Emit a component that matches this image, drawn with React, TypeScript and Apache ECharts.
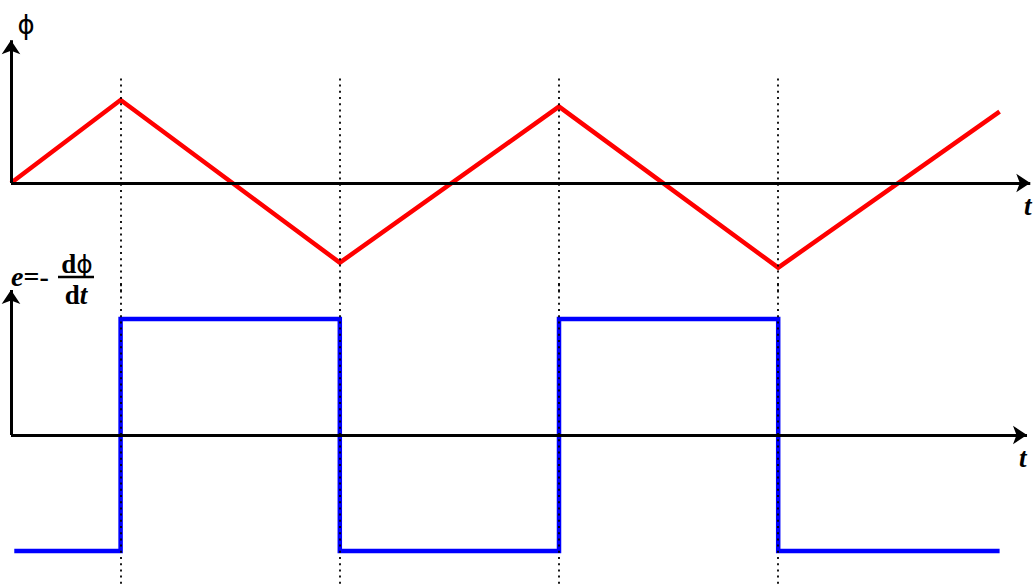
import React, { useEffect, useRef } from "react";
import * as echarts from "echarts";

// magnetic flux (top) vertices: time, value
const phiTimes = [0, 1, 3, 5, 7, 9.02];
const phiValues = [0, 1.0, -0.96, 0.92, -1.02, 0.86];

// induced emf (bottom) switching points, drawn with step 'start'
const eTimes = [0.03, 1, 3, 5, 7, 9.02];
const eValues = [-1, -1, 1, -1, 1, -1];

// dotted guide times (extrema of flux)
const guideTimes = [1, 3, 5, 7];

// axis extents
const tMax = 9.3;
const phiAxisTop = 1.72;
const eAxisTop = 1.25;

export default function App() {
  const ref = useRef<HTMLDivElement>(null);

  useEffect(() => {
    if (!ref.current) return;
    const chart = echarts.init(ref.current, null, { renderer: "svg" });

    const axisStyle = { color: "#000", width: 3, type: "solid" as const };
    const guideStyle = { color: "#000", width: 1.8, type: [2, 4.2] as any };

    const axisMark = (end: [number, number]) => [
      { coord: [0, 0], symbol: "none" },
      { coord: end, symbol: "arrow" },
    ];

    const serif = "Liberation Serif";

    const option: any = {
      animation: false,
      backgroundColor: "#fff",
      grid: [
        { left: 11, top: 17, width: tMax * 109.6, height: 3.3 * 83 },
        { left: 11, top: 435 - 1.3 * 116, width: tMax * 109.6, height: 2.6 * 116 },
      ],
      xAxis: [
        { type: "value", gridIndex: 0, min: 0, max: tMax, show: false },
        { type: "value", gridIndex: 1, min: 0, max: tMax, show: false },
      ],
      yAxis: [
        { type: "value", gridIndex: 0, min: -1.3, max: 2.0, show: false },
        { type: "value", gridIndex: 1, min: -1.3, max: 1.3, show: false },
      ],
      series: [
        {
          name: "axes-top",
          type: "line",
          xAxisIndex: 0,
          yAxisIndex: 0,
          data: [],
          z: 1,
          markLine: {
            silent: true,
            animation: false,
            symbolSize: 14,
            label: { show: false },
            lineStyle: axisStyle,
            data: [axisMark([tMax, 0]), axisMark([0, phiAxisTop])],
          },
        },
        {
          name: "axes-bottom",
          type: "line",
          xAxisIndex: 1,
          yAxisIndex: 1,
          data: [],
          z: 1,
          markLine: {
            silent: true,
            animation: false,
            symbolSize: 14,
            label: { show: false },
            lineStyle: axisStyle,
            data: [axisMark([tMax - 0.03, 0]), axisMark([0, eAxisTop])],
          },
        },
        {
          name: "phi",
          type: "line",
          xAxisIndex: 0,
          yAxisIndex: 0,
          z: 2,
          showSymbol: false,
          symbol: "none",
          lineStyle: { color: "#ff0000", width: 4.5, join: "miter" },
          data: phiTimes.map((t, i) => [t, phiValues[i]]),
        },
        {
          name: "e",
          type: "line",
          xAxisIndex: 1,
          yAxisIndex: 1,
          z: 2,
          step: "start",
          showSymbol: false,
          symbol: "none",
          lineStyle: { color: "#0000ff", width: 4.5, join: "miter" },
          data: eTimes.map((t, i) => [t, eValues[i]]),
        },
        {
          name: "guides-top",
          type: "line",
          xAxisIndex: 0,
          yAxisIndex: 0,
          data: [],
          z: 3,
          markLine: {
            silent: true,
            animation: false,
            symbol: "none",
            label: { show: false },
            lineStyle: guideStyle,
            data: guideTimes.map((t) => [{ coord: [t, 1.26] }, { coord: [t, -1.3] }]),
          },
        },
        {
          name: "guides-bottom",
          type: "line",
          xAxisIndex: 1,
          yAxisIndex: 1,
          data: [],
          z: 3,
          markLine: {
            silent: true,
            animation: false,
            symbol: "none",
            label: { show: false },
            lineStyle: guideStyle,
            data: guideTimes.map((t) => [{ coord: [t, 1.3] }, { coord: [t, -1.3] }]),
          },
        },
      ],
      graphic: [
        {
          type: "text",
          x: 26,
          y: 25,
          style: {
            text: "ϕ",
            fontSize: 26,
            fontFamily: "DejaVu Sans",
            fill: "#000",
            align: "center",
            verticalAlign: "middle",
          },
        },
        {
          type: "text",
          x: 1024,
          y: 206,
          style: {
            text: "t",
            fontSize: 27,
            fontStyle: "italic",
            fontWeight: "bold",
            fontFamily: serif,
            fill: "#000",
            align: "left",
            verticalAlign: "middle",
          },
        },
        {
          type: "text",
          x: 1019,
          y: 458,
          style: {
            text: "t",
            fontSize: 27,
            fontStyle: "italic",
            fontWeight: "bold",
            fontFamily: serif,
            fill: "#000",
            align: "left",
            verticalAlign: "middle",
          },
        },
        {
          type: "text",
          x: 11,
          y: 276,
          style: {
            text: "{i|e}{b|=-}",
            fill: "#000",
            align: "left",
            verticalAlign: "middle",
            rich: {
              i: { fontSize: 28, fontStyle: "italic", fontWeight: "bold", fontFamily: serif, fill: "#000" },
              b: { fontSize: 28, fontWeight: "bold", fontFamily: serif, fill: "#000" },
            },
          },
        },
        {
          type: "text",
          x: 77,
          y: 264,
          style: {
            text: "{b|d}{p|ϕ}",
            fill: "#000",
            align: "center",
            verticalAlign: "middle",
            rich: {
              b: { fontSize: 27, fontWeight: "bold", fontFamily: serif, fill: "#000" },
              p: { fontSize: 25, fontFamily: "DejaVu Sans", fill: "#000" },
            },
          },
        },
        {
          type: "line",
          shape: { x1: 58, y1: 277, x2: 94, y2: 277 },
          style: { stroke: "#000", lineWidth: 2.4 },
        },
        {
          type: "text",
          x: 76,
          y: 295,
          style: {
            text: "{b|d}{i|t}",
            fill: "#000",
            align: "center",
            verticalAlign: "middle",
            rich: {
              b: { fontSize: 27, fontWeight: "bold", fontFamily: serif, fill: "#000" },
              i: { fontSize: 27, fontStyle: "italic", fontWeight: "bold", fontFamily: serif, fill: "#000" },
            },
          },
        },
      ],
    };

    chart.setOption(option);
    return () => chart.dispose();
  }, []);

  return (
    <div
      ref={ref}
      style={{ position: "fixed", left: 0, top: 0, width: 1033, height: 587, background: "#fff" }}
    />
  );
}
